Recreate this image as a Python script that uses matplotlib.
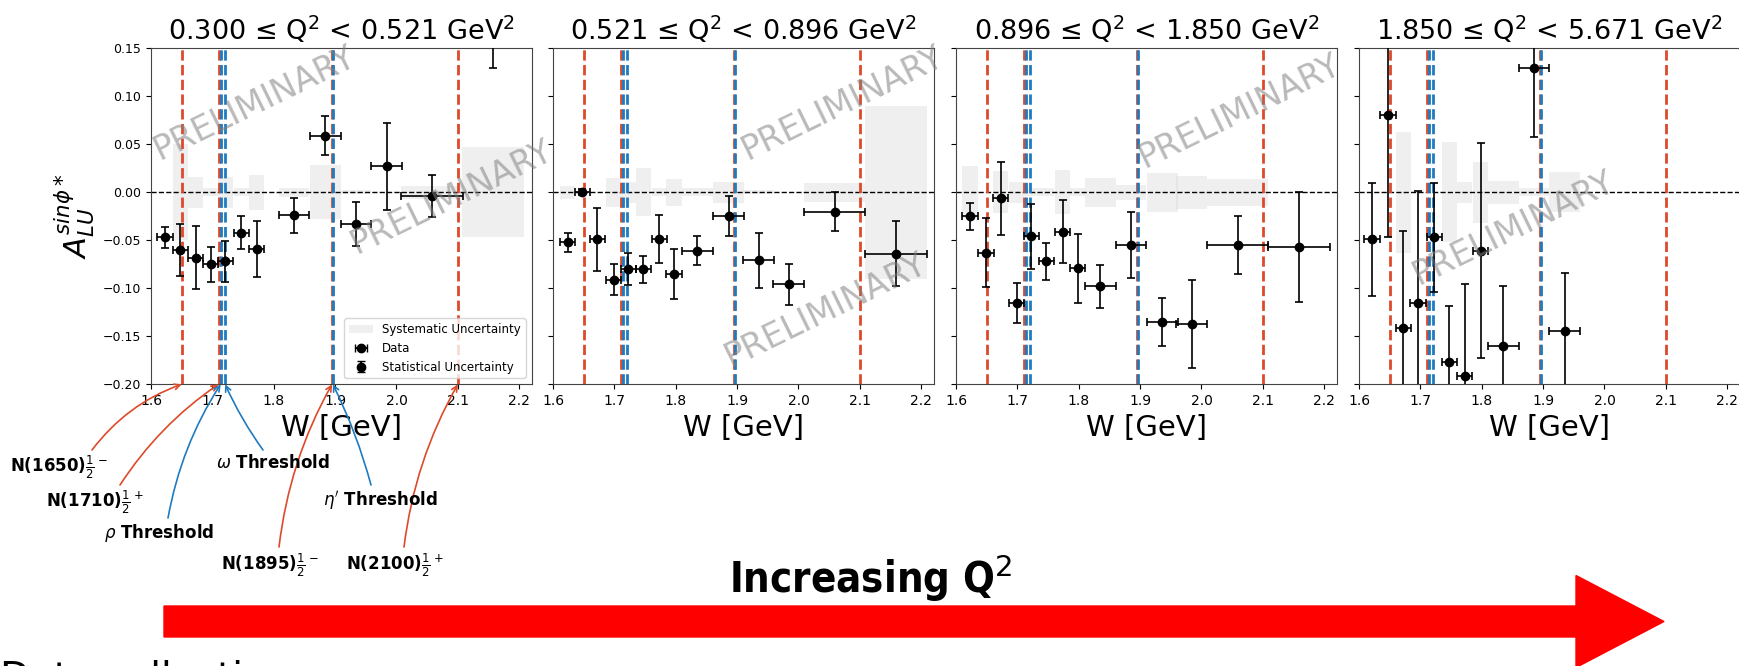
import numpy as np
import matplotlib.pyplot as plt
from matplotlib.patches import FancyArrow, Patch

# Q^2 bin edges (one panel per bin)
q2_edges = ["0.300", "0.521", "0.896", "1.850", "5.671"]

# panel 1
w_1 = [1.623, 1.648, 1.673, 1.697, 1.721, 1.747, 1.772, 1.833, 1.884, 1.934, 1.984, 2.058, 2.157]
dw_1 = [0.0125] * 7 + [0.025] * 4 + [0.05] * 2
a_1 = [-0.047, -0.060, -0.068, -0.075, -0.072, -0.042, -0.059, -0.024, 0.059, -0.033, 0.027, -0.004, 0.200]
da_1 = [0.011, 0.027, 0.033, 0.018, 0.021, 0.017, 0.029, 0.018, 0.020, 0.023, 0.045, 0.022, 0.071]
sys_1 = [0.0, 0.050, 0.016, 0.004, 0.016, 0.004, 0.018, 0.005, 0.028, 0.002, 0.0, 0.007, 0.047]

# panel 2
w_2 = [1.624, 1.648, 1.672, 1.699, 1.723, 1.747, 1.773, 1.797, 1.835, 1.886, 1.935, 1.984, 2.059, 2.159]
dw_2 = [0.0125] * 8 + [0.025] * 4 + [0.05] * 2
a_2 = [-0.052, 0.000, -0.049, -0.091, -0.080, -0.080, -0.049, -0.085, -0.061, -0.025, -0.071, -0.096, -0.020, -0.064]
da_2 = [0.010, 0.003, 0.033, 0.016, 0.017, 0.014, 0.025, 0.026, 0.015, 0.021, 0.029, 0.021, 0.020, 0.034]
sys_2 = [0.007, 0.0, 0.0, 0.015, 0.011, 0.025, 0.004, 0.014, 0.004, 0.011, 0.002, 0.0, 0.010, 0.090]

# panel 3
w_3 = [1.623, 1.649, 1.673, 1.699, 1.723, 1.747, 1.774, 1.798, 1.835, 1.885, 1.936, 1.984, 2.059, 2.159]
dw_3 = [0.0125] * 8 + [0.025] * 4 + [0.05] * 2
a_3 = [-0.025, -0.063, -0.006, -0.115, -0.046, -0.072, -0.041, -0.079, -0.098, -0.055, -0.135, -0.137, -0.055, -0.057]
da_3 = [0.014, 0.036, 0.038, 0.021, 0.034, 0.019, 0.033, 0.036, 0.022, 0.034, 0.025, 0.046, 0.030, 0.057]
sys_3 = [0.027, 0.0, 0.022, 0.011, 0.004, 0.004, 0.023, 0.004, 0.015, 0.008, 0.020, 0.017, 0.014, 0.0]

# panel 4
w_4 = [1.621, 1.647, 1.672, 1.696, 1.723, 1.747, 1.772, 1.798, 1.835, 1.885, 1.935]
dw_4 = [0.0125] * 8 + [0.025] * 3
a_4 = [-0.049, 0.081, -0.141, -0.115, -0.047, -0.177, -0.191, -0.061, -0.160, 0.130, -0.144]
da_4 = [0.059, 0.128, 0.101, 0.116, 0.057, 0.059, 0.095, 0.112, 0.062, 0.072, 0.060]
sys_4 = [0.0, 0.0, 0.063, 0.0, 0.0, 0.052, 0.011, 0.032, 0.012, 0.004, 0.021]

panels = [(w_1, dw_1, a_1, da_1, sys_1), (w_2, dw_2, a_2, da_2, sys_2),
          (w_3, dw_3, a_3, da_3, sys_3), (w_4, dw_4, a_4, da_4, sys_4)]

# resonances (red) and thresholds (blue)
n_star = [1.65, 1.71, 1.895, 2.1]
thresholds = [1.7135, 1.7208, 1.8963]

x_ticks = [1.6, 1.7, 1.8, 1.9, 2.0, 2.1, 2.2]
y_ticks = [-0.20, -0.15, -0.10, -0.05, 0.00, 0.05, 0.10, 0.15]

RED = '#dd4a2a'
BLUE = '#1f7bc0'

W, H = 1739, 666
fig = plt.figure(figsize=(W / 100, H / 100), dpi=100)


def fx(x):
    return x / W


def fy(y):
    return 1 - y / H


axes = []
lefts = [151, 553, 956, 1359]
for i, left in enumerate(lefts):
    ax = fig.add_axes([fx(left), fy(384.3), 380.5 / W, (384.3 - 48.3) / H])
    axes.append(ax)
    w, dw, a, da, sy = [np.array(v) for v in panels[i]]

    ax.bar(w, 2 * sy, bottom=-sy, width=2 * dw, color='lightgray', alpha=0.35,
           linewidth=0, zorder=1)
    ax.axhline(0, color='k', ls='--', lw=1, zorder=2)
    for x in n_star:
        ax.axvline(x, color=RED, ls='--', lw=2, zorder=3)
    for x in thresholds:
        ax.axvline(x, color=BLUE, ls='--', lw=2, zorder=3)
    ax.errorbar(w, a, xerr=dw, yerr=da, fmt='o', color='k', ms=6, capsize=3,
                elinewidth=1.2, capthick=1.2, zorder=4)

    ax.set_xlim(1.6, 2.22)
    ax.set_ylim(-0.20, 0.15)
    ax.set_xticks(x_ticks)
    ax.set_xticklabels([f"{t:.1f}" for t in x_ticks], fontsize=10)
    ax.set_yticks(y_ticks)
    if i == 0:
        ax.set_yticklabels([f"{t:.2f}".replace('-', '\u2212') for t in y_ticks], fontsize=9)
        ax.set_ylabel(r'$A_{LU}^{sin\phi*}$', fontsize=22)
    else:
        ax.set_yticklabels([])
    ax.set_xlabel('W [GeV]', fontsize=21)
    ax.set_title(f"{q2_edges[i]} \u2264 Q$^2$ < {q2_edges[i + 1]} GeV$^2$", fontsize=19.5, pad=6)
    for s in ax.spines.values():
        s.set_color('#444444')

# legend in first panel
ax0 = axes[0]
h_sys = Patch(color='lightgray', alpha=0.35, linewidth=0)
h_data = ax0.errorbar([np.nan], [np.nan], xerr=[0.01], fmt='o', color='k', ms=6, capsize=3)
h_stat = ax0.errorbar([np.nan], [np.nan], yerr=[0.01], fmt='o', color='k', ms=6, capsize=3)
ax0.legend([h_sys, h_data, h_stat], ['Systematic Uncertainty', 'Data', 'Statistical Uncertainty'],
           loc='lower right', fontsize=8.5)

# watermarks
marks = [(255, 103), (452, 197), (843, 103), (826, 310), (1240, 111), (1514, 228)]
for mx, my in marks:
    fig.text(fx(mx), fy(my), 'PRELIMINARY', fontsize=24, color='gray', alpha=0.55,
             rotation=26, ha='center', va='center', zorder=10)

# resonance / threshold annotations below first panel
labels = [
    (r'N(1650)$\frac{1}{2}^-$', 1.650, RED, (10, 467), (92, 450), -0.15),
    (r'N(1710)$\frac{1}{2}^+$', 1.710, RED, (46, 502), (120, 485), -0.1),
    (r'$\rho$ Threshold', 1.7135, BLUE, (104, 533), (168, 518), -0.1),
    (r'$\omega$ Threshold', 1.7208, BLUE, (216, 463), (263, 450), -0.05),
    (r'N(1895)$\frac{1}{2}^-$', 1.895, RED, (221, 565), (279, 547), -0.1),
    (r"$\eta'$ Threshold", 1.8963, BLUE, (323, 500), (371, 485), 0.05),
    (r'N(2100)$\frac{1}{2}^+$', 2.100, RED, (346, 565), (404, 547), -0.1),
]
for txt, wx, col, (tx, ty), (sx, sy), rad in labels:
    fig.text(fx(tx), fy(ty), txt, fontsize=12, fontweight='bold', ha='left', va='center')
    ax0.annotate('', xy=(wx, -0.20), xycoords='data',
                 xytext=(fx(sx), fy(sy)), textcoords='figure fraction',
                 arrowprops=dict(arrowstyle='->', color=col, lw=1.2,
                                 connectionstyle=f'arc3,rad={rad}', shrinkA=0, shrinkB=0),
                 annotation_clip=False)

# big arrow
fig.patches.append(FancyArrow(fx(164), fy(621.5), fx(1664) - fx(164), 0, width=31 / H,
                              head_width=92 / H, head_length=88 / W, length_includes_head=True,
                              color='red', transform=fig.transFigure, figure=fig))
fig.text(fx(871), fy(578), 'Increasing Q$^2$', fontsize=30, fontweight='bold',
         fontstretch='condensed', ha='center', va='center')
# slide text below, cut by the bottom edge as in the screenshot
fig.text(0, fy(659), 'Data collection', fontsize=28, ha='left', va='top')

fig.savefig('out.png', dpi=100)
